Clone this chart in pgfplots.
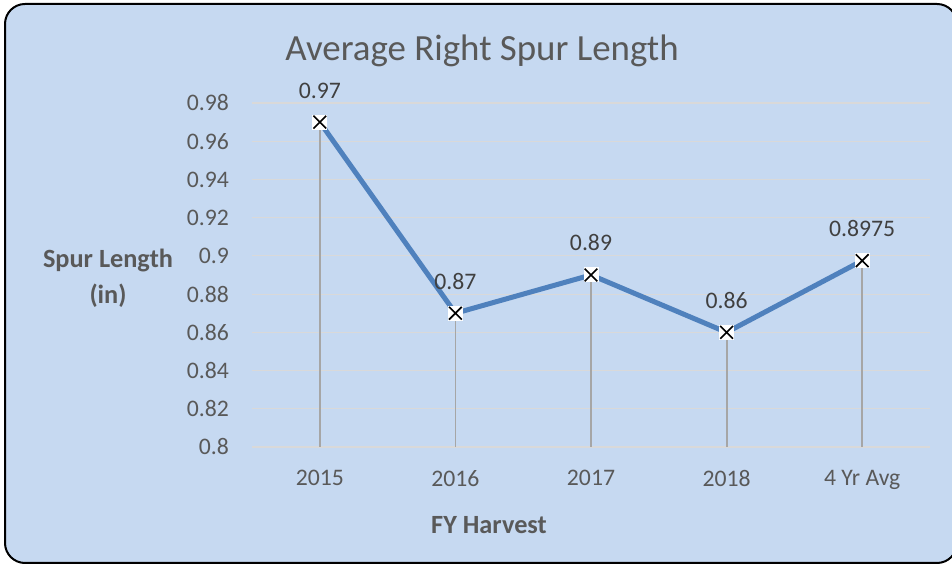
\documentclass[border=0pt]{standalone}
\usepackage{fontspec}
\setmainfont{Carlito}
\usepackage{pgfplots}
\usepackage{pgfplotstable}
\pgfplotsset{compat=1.18}
\definecolor{bg}{HTML}{C6D9F1}
\definecolor{ser}{HTML}{4F81BD}
\definecolor{txt}{HTML}{595959}
\definecolor{lab}{HTML}{404040}
\definecolor{gridc}{HTML}{D9D9D9}
\definecolor{drop}{HTML}{A6A6A6}
\pgfplotstableread{
x y e lab
0 0.97 0.17 0.97
1 0.87 0.07 0.87
2 0.89 0.09 0.89
3 0.86 0.06 0.86
4 0.8975 0.0975 0.8975
}\data
\begin{document}
\begin{tikzpicture}[x=1pt,y=1pt]
\clip (0,0) rectangle (952,564);
\fill[white] (0,0) rectangle (952,564);
\fill[bg, rounded corners=20pt] (5,1) rectangle (957,560);
\draw[black, line width=2pt, rounded corners=20pt] (5,1) rectangle (957,560);
\begin{axis}[
  at={(252pt,117pt)}, anchor=south west,
  scale only axis, width=678pt, height=344pt,
  xmin=-0.5, xmax=4.5, ymin=0.8, ymax=0.98,
  clip=false,
  axis line style={draw=none},
  major tick length=0pt,
  xtick={0,1,2,3,4},
  xticklabels={2015,2016,2017,2018,4 Yr Avg},
  ytick={0.8,0.82,0.84,0.86,0.88,0.9,0.92,0.94,0.96,0.98},
  yticklabels={0.8,0.82,0.84,0.86,0.88,0.9,0.92,0.94,0.96,0.98},
  ymajorgrids, grid style={draw=gridc, line width=1.2pt},
  yticklabel style={font=\fontsize{23.7}{28}\selectfont, text=txt, anchor=east, inner sep=0pt, xshift=-23pt},
  xticklabel style={font=\fontsize{23.7}{28}\selectfont, text=txt, anchor=north, inner sep=0pt, yshift=-23pt},
]
\addplot[only marks, mark=none, error bars/.cd, y dir=minus, y explicit,
  error mark=none, error bar style={draw=drop, line width=1.8pt}]
  table[x=x, y=y, y error minus=e] {\data};
\addplot[ser, line width=5pt, mark=none] table[x=x, y=y] {\data};
\addplot[only marks, white, mark=square*, mark size=7pt, mark options={fill=white, draw=white, line width=0pt}] table[x=x, y=y] {\data};
\addplot[only marks, black, mark=x, mark size=9pt, mark options={draw=black, line width=1.6pt},
  point meta=explicit symbolic,
  nodes near coords,
  every node near coord/.append style={anchor=base, yshift=24pt, inner sep=0pt, text=lab, font=\fontsize{23.7}{28}\selectfont}]
  table[x=x, y=y, meta=lab] {\data};
\end{axis}
\node[text=txt, font=\fontsize{36.9}{44}\selectfont] at (482,513) {Average Right Spur Length};
\node[text=txt, font=\fontsize{26.3}{36}\selectfont\bfseries, align=center] at (108,286) {Spur Length\\(in)};
\node[text=txt, font=\fontsize{26.3}{32}\selectfont\bfseries] at (489,39) {FY Harvest};
\end{tikzpicture}
\end{document}
